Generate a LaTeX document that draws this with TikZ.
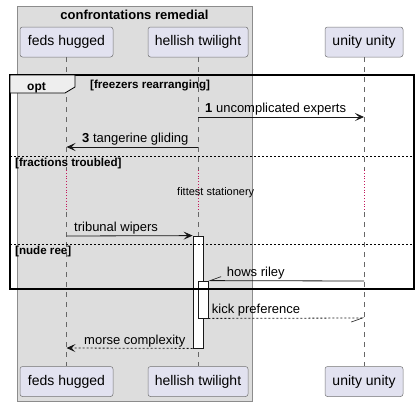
\documentclass[tikz,border=0pt]{standalone}
\usepackage{fontspec}
\setmainfont{Liberation Sans}
\usepackage{tikz}
\usetikzlibrary{arrows.meta,positioning}
\definecolor{partfill}{HTML}{E2E2F0}
\definecolor{partline}{HTML}{181818}
\definecolor{boxfill}{HTML}{DDDDDD}
\definecolor{boxline}{HTML}{8C8C8C}
\definecolor{tabfill}{HTML}{EEEEEE}
\definecolor{delayred}{HTML}{C2185B}

\begin{document}
\begin{tikzpicture}[x=1pt, y=-1pt,
    part/.style={rectangle, rounded corners=2.5pt, draw=partline!60, fill=partfill, line width=0.5pt,
                 minimum width=#1, minimum height=30pt, inner sep=0pt, font=\fontsize{14}{16}\selectfont},
    life/.style={dashed, dash pattern=on 5pt off 5pt, draw=black!60, line width=0.5pt},
    delay/.style={dotted, draw=delayred, line width=0.8pt},
    msg/.style={draw=partline, line width=0.8pt},
    reply/.style={msg, dash pattern=on 2pt off 2pt},
    tip/.style={-{Stealth[length=9pt, width=8pt, inset=4pt]}},
    barb/.style={-{Straight Barb[length=11pt, width=8pt, harpoon, swap, line width=0.6pt]}},
    lbl/.style={anchor=base west, inner sep=0pt, font=\fontsize{13}{15}\selectfont},
    grp/.style={anchor=base west, inner sep=0pt, font=\fontsize{11.6}{13}\selectfont\bfseries},
    act/.style={rectangle, draw=partline, fill=white, line width=0.8pt}
]
    \useasboundingbox (0,0) rectangle (419,407);

    % box around the first two participants
    \draw[boxline, fill=boxfill, line width=0.8pt] (17,6) rectangle (252,401);
    \node[anchor=base, inner sep=0pt, font=\fontsize{13}{15}\selectfont\bfseries] (boxtitle) at (134.5,19) {confrontations remedial};

    % participants
    \node[part=93pt]  (fedsTop)    at (66.5,42)  {feds hugged};
    \node[part=100pt] (hellishTop) at (198,42)   {hellish twilight};
    \node[part=78pt]  (unityTop)   at (364,42)   {unity unity};
    \node[part=93pt]  (fedsBot)    at (66.5,381.5) {feds hugged};
    \node[part=100pt] (hellishBot) at (198,381.5)  {hellish twilight};
    \node[part=78pt]  (unityBot)   at (364,381.5)  {unity unity};

    % lifelines, broken by the delay
    \foreach \p/\x in {feds/66.5, hellish/198, unity/364} {
        \coordinate (\p A) at (\x,170);
        \coordinate (\p B) at (\x,212);
        \draw[life] (\p Top) -- (\p A);
        \draw[delay] (\p A) -- (\p B);
        \draw[life] (\p B) -- (\p Bot);
    }
    \node[anchor=base west, inner sep=0pt, font=\fontsize{11}{13}\selectfont] (delaytxt) at (177,195) {fittest stationery};

    % activations
    \node[act, minimum width=10pt, minimum height=112pt, inner sep=0pt] (act1) at (198,292) {};
    \node[act, minimum width=10pt, minimum height=37pt, inner sep=0pt] (act2) at (203,299.5) {};

    % messages
    \coordinate (m1a) at (198,117);   \coordinate (m1b) at (364,117);
    \coordinate (m3a) at (198,147);   \coordinate (m3b) at (66.5,147);
    \coordinate (m4a) at (66.5,236);
    \coordinate (m5a) at (364,281);
    \coordinate (m6b) at (364,318);
    \coordinate (m7b) at (66.5,348);

    \draw[msg, tip] (m1a) -- (m1b);
    \node[lbl] (l1) at (205,112) {\textbf{1} uncomplicated experts};
    \draw[msg, tip] (m3a) -- (m3b);
    \node[lbl] (l3) at (82,142) {\textbf{3} tangerine gliding};
    \draw[msg, tip] (m4a) -- (act1.north west);
    \node[lbl] (l4) at (74,231) {tribunal wipers};
    \draw[msg, barb] (m5a) -- (act2.north east);
    \node[lbl] (l5) at (226.7,276) {hows riley};
    \draw[reply, barb] (act2.south east) -- (m6b);
    \node[lbl] (l6) at (211.7,313) {kick preference};
    \draw[reply, tip] (act1.south west) -- (m7b);
    \node[lbl] (l7) at (84,344) {morse complexity};

    % opt frame
    \draw[line width=1.5pt] (10,75) rectangle (414,289);
    \draw[line width=0.8pt, fill=tabfill] (10,75) -- (75,75) -- (75,87) -- (65,93) -- (10,93) -- cycle;
    \node[anchor=base west, inner sep=0pt, font=\fontsize{12}{14}\selectfont\bfseries] (optlbl) at (27,90) {opt};
    \node[grp] (g1) at (90,88) {[freezers rearranging]};
    \draw[dashed, dash pattern=on 2pt off 2pt, line width=0.8pt] (10,156) -- (414,156);
    \node[grp] (g2) at (15,166) {[fractions troubled]};
    \draw[dashed, dash pattern=on 2pt off 2pt, line width=0.8pt] (10,244) -- (414,244);
    \node[grp] (g3) at (15,254) {[nude ree]};
\end{tikzpicture}
\end{document}
